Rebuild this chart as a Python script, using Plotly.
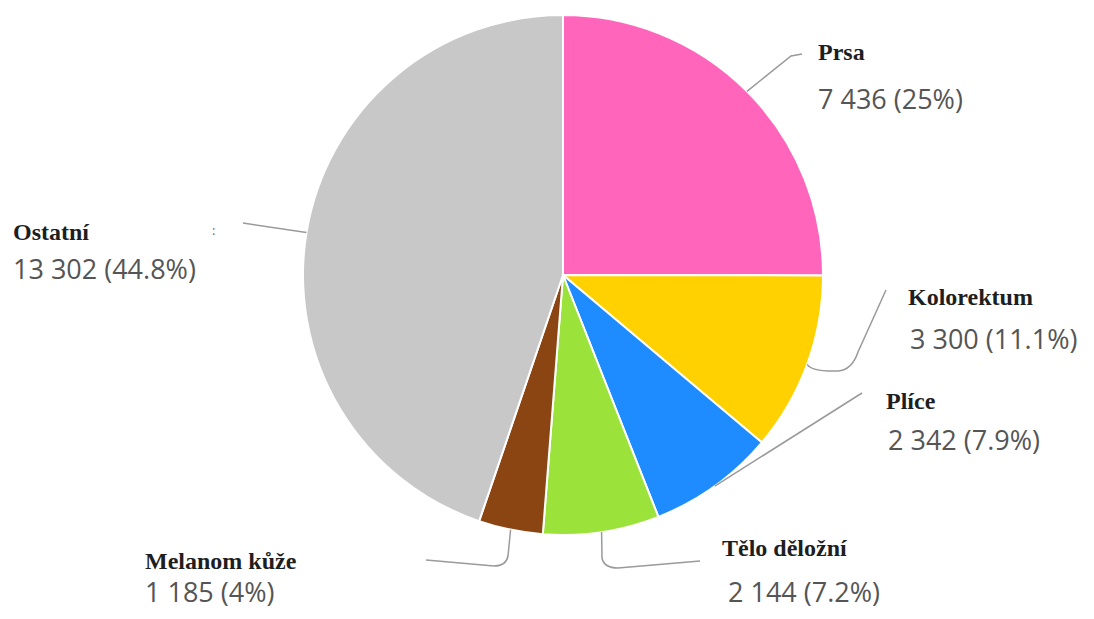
import math
import plotly.graph_objects as go

# data
labels = ["Prsa", "Kolorektum", "Plíce", "Tělo děložní", "Melanom kůže", "Ostatní"]
values = [7436, 3300, 2342, 2144, 1185, 13302]
colors = ["#FF66BB", "#FFD100", "#1E8CFF", "#9BE33A", "#8B4513", "#C8C8C8"]

# page is 1094x619, body margin of 8px -> figure 1078x603 starting at (8, 8)
PAGE_W, PAGE_H, OFF = 1094, 619, 8
W, H = PAGE_W - 2 * OFF, PAGE_H - 2 * OFF
CX, CY, R = 563, 275, 260

# label placement (page px): name anchor, value anchor, leader path after rim point
name_pos = [(816, 52), (906, 297), (884, 401), (720, 548), (143, 561), (11, 232)]
value_pos = [(816, 98), (908, 338), (886, 439), (726, 591), (143, 591), (11, 268)]
leader_tail = [
    " L 791 56 L 802 54",
    " Q 812 372 838 371 Q 852 370 858 352 L 886 290",
    " L 862 393",
    " L 602 558 Q 604 568 618 568 L 700 561",
    " L 508 556 Q 506 566 494 566 L 426 560",
    " L 243 223",
]


def fx(x):
    return (x - OFF) / W


def fy(y):
    return 1 - (y - OFF) / H


def fmt(v, total):
    pct = round(100 * v / total, 1)
    pct_s = f"{pct:.1f}".rstrip("0").rstrip(".")
    return f"{v:,}".replace(",", " ") + f" ({pct_s}%)"


fig = go.Figure()
fig.add_pie(
    labels=labels, values=values, sort=False, direction="clockwise", rotation=0,
    marker=dict(colors=colors, line=dict(color="white", width=2)),
    textinfo="none", hoverinfo="label+value+percent", showlegend=False,
    domain=dict(x=[fx(CX - R), fx(CX + R)], y=[fy(CY + R), fy(CY - R)]),
)

total = sum(values)
shapes, annotations = [], []
cum = 0
for i, v in enumerate(values):
    mid = (cum + v / 2) / total * 2 * math.pi
    cum += v
    rx = CX + R * math.sin(mid)
    ry = CY - R * math.cos(mid)
    shapes.append(dict(type="path", xref="x", yref="y",
                       path=f"M {rx:.1f} {ry:.1f}" + leader_tail[i],
                       line=dict(color="#9A9A9A", width=1.5)))
    nx, ny = name_pos[i]
    vx, vy = value_pos[i]
    annotations.append(dict(x=nx, y=ny, xref="x", yref="y", text=f"<b>{labels[i]}</b>",
                            showarrow=False, xanchor="left", yanchor="middle",
                            font=dict(family="Liberation Serif", size=24, color="#1E1E1E")))
    annotations.append(dict(x=vx, y=vy, xref="x", yref="y", text=fmt(v, total),
                            showarrow=False, xanchor="left", yanchor="middle",
                            font=dict(family="Open Sans", size=27, color="#555555")))

# stray mark next to the "Ostatní" label in the source
annotations.append(dict(x=213, y=230, xref="x", yref="y", text=":", showarrow=False,
                        font=dict(family="Open Sans", size=13, color="#666666")))

fig.update_layout(
    width=W, height=H, margin=dict(l=0, r=0, t=0, b=0),
    paper_bgcolor="white", plot_bgcolor="rgba(0,0,0,0)",
    xaxis=dict(range=[OFF, OFF + W], visible=False, fixedrange=True),
    yaxis=dict(range=[OFF + H, OFF], visible=False, fixedrange=True),
    shapes=shapes, annotations=annotations,
)

fig.write_html("out.html")
